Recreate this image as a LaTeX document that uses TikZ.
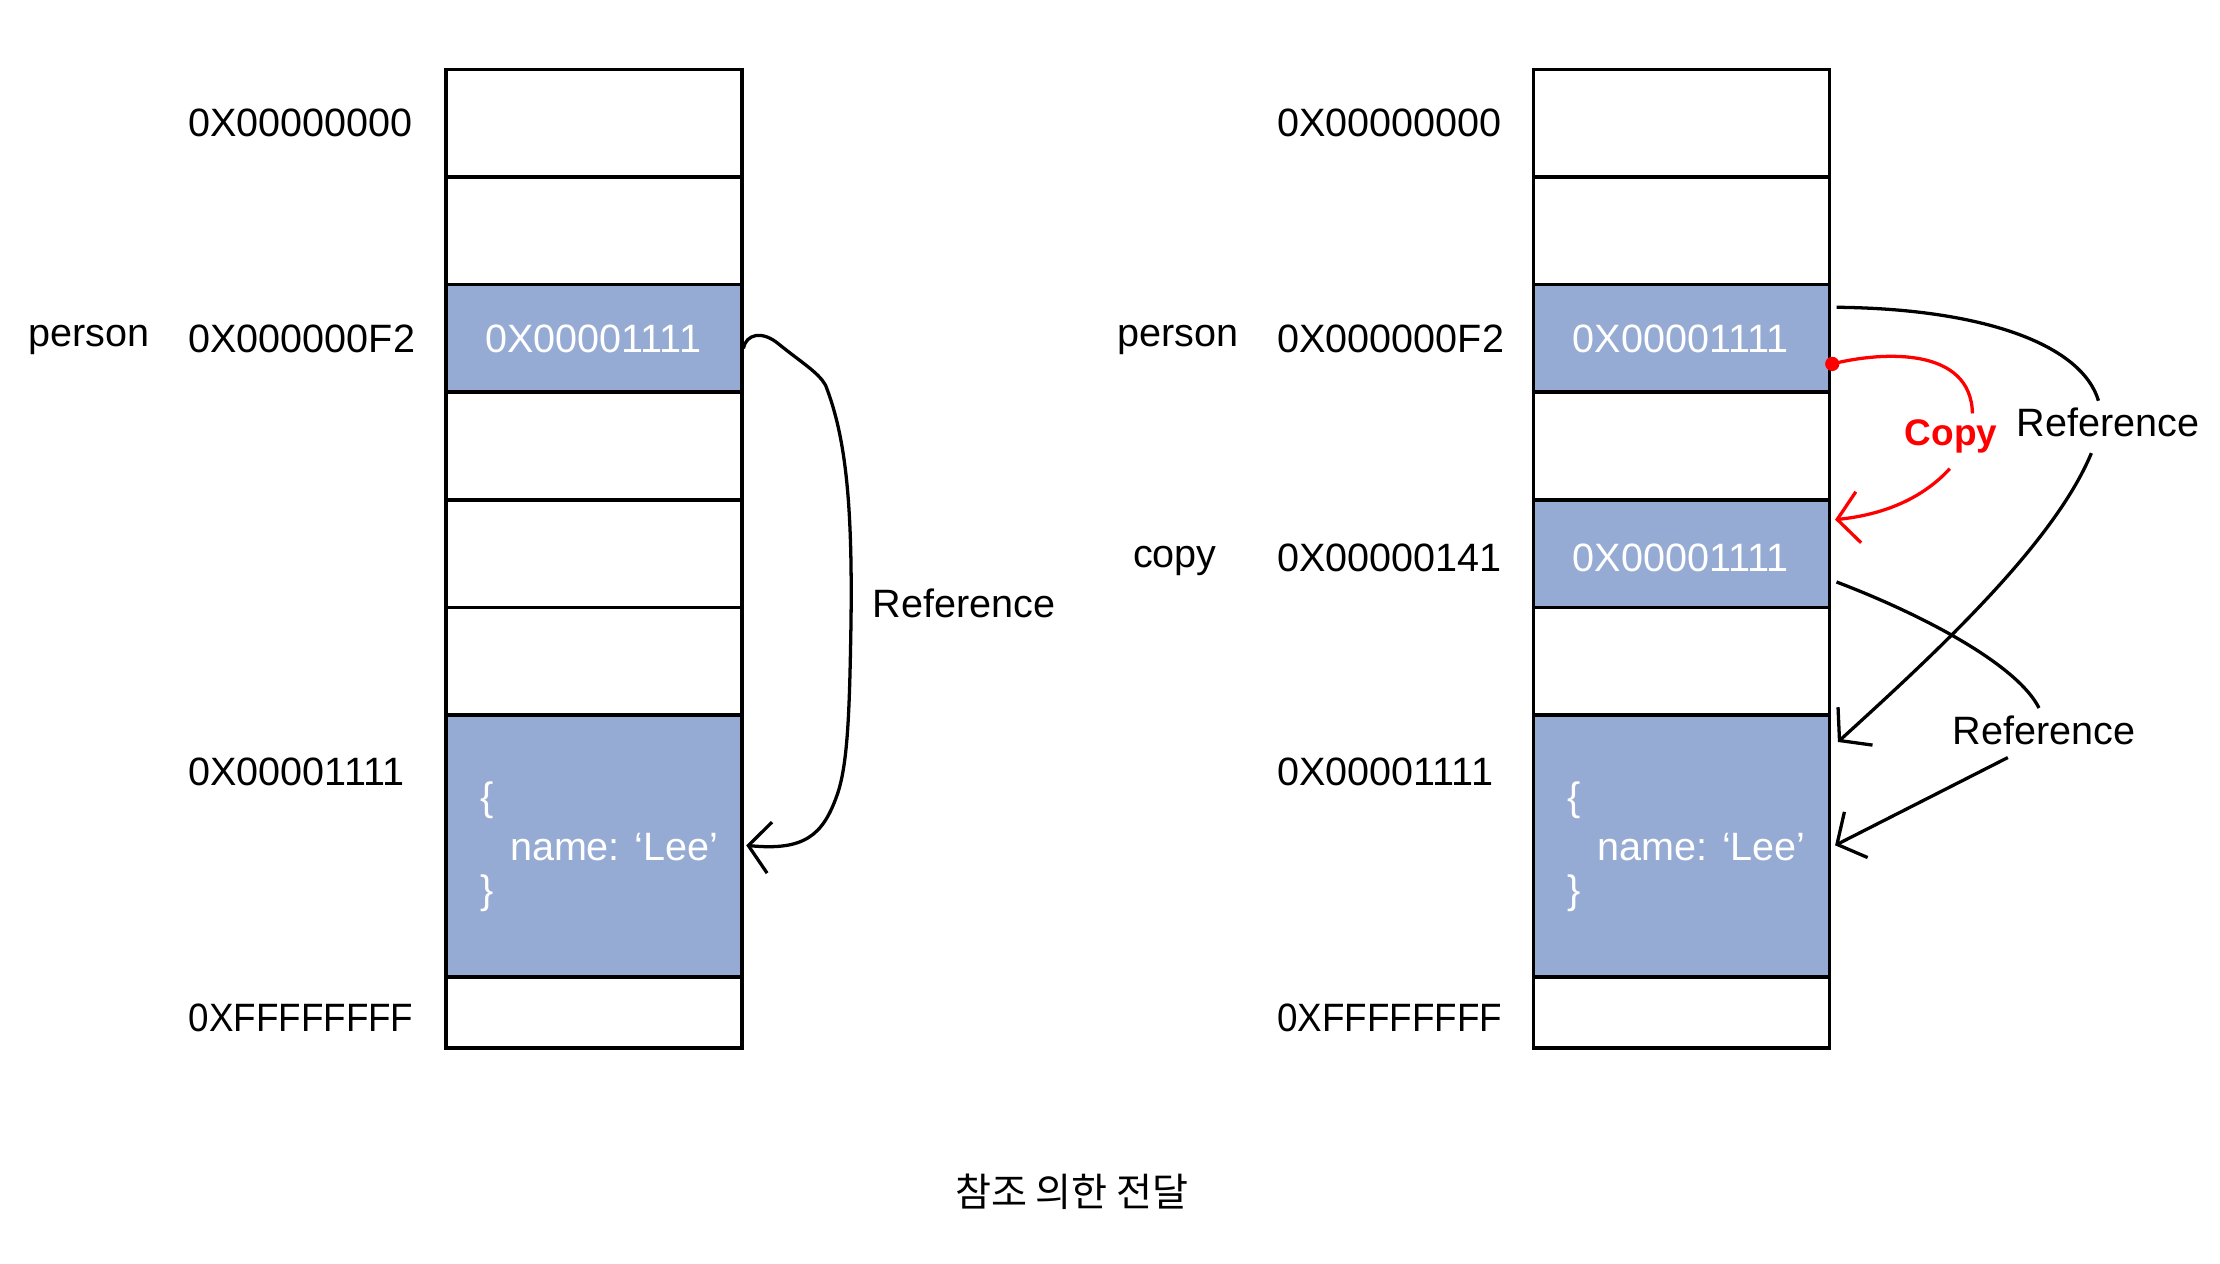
\documentclass[tikz,border=0pt]{standalone}
\usepackage{fontspec}
\setmainfont{Liberation Sans}
\newfontfamily\krfont{Noto Sans CJK KR}
\usetikzlibrary{arrows.meta}
\definecolor{cellblue}{RGB}{150,171,212}
\definecolor{copyred}{RGB}{255,0,0}
\tikzset{
  cell/.style={draw=black, line width=2.5pt, anchor=north west, minimum width=208pt, inner sep=0pt, outer sep=0pt},
  bluecell/.style={cell, fill=cellblue},
  lbl/.style={anchor=west, inner sep=0pt, font=\fontsize{27.8}{33}\selectfont},
  wtxt/.style={text=white, inner sep=0pt, font=\fontsize{27.8}{33}\selectfont},
  conn/.style={line width=2.3pt, draw=black},
  conntip/.style={conn, -{Straight Barb[length=15pt,width=36pt]}},
  redconn/.style={line width=2.3pt, draw=copyred},
  redtip/.style={redconn, -{Straight Barb[length=15pt,width=36pt]}}
}
\newcommand{\ffff}{\scalebox{0.93}[1]{0XFFFFFFFF}}
\begin{document}
\begin{tikzpicture}[x=0.995pt,y=-0.995pt]
\useasboundingbox (0,0) rectangle (1567.84,892.46);
% ---------- left memory ----------
\node[cell, minimum height=75.6pt] (L1) at (315,49) {};
\node[cell, minimum height=75.6pt] (L2) at (315,125) {};
\node[bluecell, minimum height=75.6pt] (L3) at (315,201) {};
\node[cell, minimum height=75.6pt] (L4) at (315,277) {};
\node[cell, minimum height=75.6pt] (L5) at (315,353) {};
\node[cell, minimum height=75.6pt] (L6) at (315,429) {};
\node[bluecell, minimum height=184pt] (L7) at (315,505) {};
\node[cell, minimum height=50pt] (L8) at (315,690) {};
\node[wtxt] (L3t) at (419,239) {0X00001111};
\node[wtxt, anchor=west] (L7a) at (339,565) {\{};
\node[wtxt, anchor=west] (L7b) at (360,598) {name: ‘Lee’};
\node[wtxt, anchor=west] (L7c) at (339,631) {\}};
\node[lbl] (La1) at (133,87) {0X00000000};
\node[lbl] (Lp) at (20,240) {person};
\node[lbl] (La3) at (133,239) {0X000000F2};
\node[lbl] (La7) at (133,545) {0X00001111};
\node[lbl] (La8) at (133,719) {\ffff};
\node[lbl] (Lref) at (616,426) {Reference};
\coordinate (Ls) at (525,246);
\coordinate (Le) at (527,597);
\draw[conntip] (Ls) .. controls (527,236) and (538,233) .. (550,243)
  .. controls (566,256) and (578,263) .. (583,272)
  .. controls (598,310) and (602,360) .. (601,440)
  .. controls (600,500) and (599,540) .. (591,562)
  .. controls (581,590) and (568,601) .. (Le);
% ---------- right memory ----------
\node[cell, minimum height=75.6pt] (R1) at (1083,49) {};
\node[cell, minimum height=75.6pt] (R2) at (1083,125) {};
\node[bluecell, minimum height=75.6pt] (R3) at (1083,201) {};
\node[cell, minimum height=75.6pt] (R4) at (1083,277) {};
\node[bluecell, minimum height=75.6pt] (R5) at (1083,353) {};
\node[cell, minimum height=75.6pt] (R6) at (1083,429) {};
\node[bluecell, minimum height=184pt] (R7) at (1083,505) {};
\node[cell, minimum height=50pt] (R8) at (1083,690) {};
\node[wtxt] (R3t) at (1187,239) {0X00001111};
\node[wtxt] (R5t) at (1187,394) {0X00001111};
\node[wtxt, anchor=west] (R7a) at (1107,565) {\{};
\node[wtxt, anchor=west] (R7b) at (1128,598) {name: ‘Lee’};
\node[wtxt, anchor=west] (R7c) at (1107,631) {\}};
\node[lbl] (Ra1) at (902,87) {0X00000000};
\node[lbl] (Rp) at (789,240) {person};
\node[lbl] (Ra3) at (902,239) {0X000000F2};
\node[lbl] (Rc) at (800,396) {copy};
\node[lbl] (Ra5) at (902,394) {0X00000141};
\node[lbl] (Ra7) at (902,545) {0X00001111};
\node[lbl] (Ra8) at (902,719) {\ffff};
\node[lbl] (Rref1) at (1424,298) {Reference};
\node[lbl] (Rref2) at (1379,516) {Reference};
\node[lbl, text=copyred, font=\fontsize{26}{30}\selectfont\bfseries] (Rcopy) at (1345,308) {Copy};
% reference 1 (person -> object)
\coordinate (A1) at (1297,217);
\coordinate (A2) at (1482,283);
\coordinate (A3) at (1477,320);
\coordinate (A4) at (1298,524);
\draw[conn] (A1) .. controls (1400,218) and (1470,243) .. (A2);
\draw[conntip] (A3) .. controls (1450,385) and (1365,463) .. (A4);
% reference 2 (copy -> object)
\coordinate (B1) at (1297,411);
\coordinate (B2) at (1440,500);
\coordinate (B3) at (1418,535);
\coordinate (B4) at (1296,597);
\draw[conn] (B1) .. controls (1360,435) and (1425,470) .. (B2);
\draw[conntip] (B3) -- (B4);
% copy
\coordinate (C1) at (1294,257);
\coordinate (C2) at (1393,292);
\coordinate (C3) at (1377,331);
\coordinate (C4) at (1296,367);
\fill[copyred] (C1) circle (5pt);
\draw[redconn] (C1) .. controls (1330,248) and (1392,245) .. (C2);
\draw[redtip] (C3) .. controls (1355,355) and (1325,364) .. (C4);
% caption
\node[inner sep=0pt, font=\krfont\fontsize{27.5}{32}\selectfont] (cap) at (757,842) {참조 의한 전달};
\end{tikzpicture}
\end{document}
